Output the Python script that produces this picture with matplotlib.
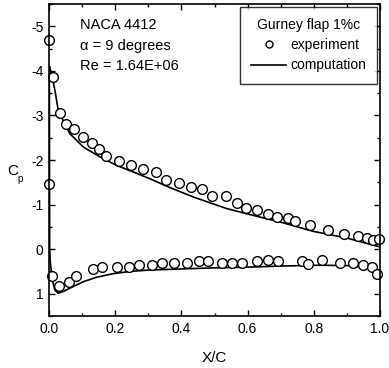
import matplotlib
matplotlib.use("Agg")
import matplotlib.pyplot as plt
from matplotlib.lines import Line2D

plt.rcParams['font.family'] = ['Liberation Sans', 'DejaVu Sans']

# experiment, upper surface
exp_up_x = [0.001, 0.013, 0.033, 0.050, 0.076, 0.104, 0.129, 0.152, 0.172, 0.212, 0.247,
            0.283, 0.323, 0.353, 0.393, 0.428, 0.461, 0.493, 0.534, 0.569, 0.594, 0.629,
            0.663, 0.690, 0.723, 0.743, 0.789, 0.844, 0.892, 0.933, 0.960, 0.980, 0.998]
exp_up_cp = [-4.69, -3.87, -3.05, -2.81, -2.70, -2.51, -2.38, -2.25, -2.10, -1.97, -1.88,
             -1.79, -1.73, -1.55, -1.48, -1.39, -1.34, -1.19, -1.20, -1.04, -0.93, -0.88,
             -0.78, -0.73, -0.69, -0.63, -0.54, -0.43, -0.35, -0.29, -0.24, -0.20, -0.22]
# experiment, lower surface
exp_lo_x = [0.001, 0.008, 0.031, 0.060, 0.082, 0.132, 0.161, 0.206, 0.243, 0.273, 0.312,
            0.342, 0.378, 0.416, 0.453, 0.481, 0.522, 0.552, 0.582, 0.627, 0.663, 0.693,
            0.763, 0.783, 0.824, 0.879, 0.918, 0.950, 0.975, 0.992]
exp_lo_cp = [-1.47, 0.60, 0.82, 0.73, 0.60, 0.45, 0.41, 0.40, 0.39, 0.36, 0.36,
             0.32, 0.31, 0.30, 0.26, 0.27, 0.32, 0.30, 0.30, 0.26, 0.24, 0.26,
             0.26, 0.34, 0.25, 0.31, 0.31, 0.36, 0.41, 0.56]

# computation, upper surface
cmp_up_x = [0.002, 0.010, 0.018, 0.028, 0.048, 0.063, 0.104, 0.154, 0.204, 0.255, 0.305,
            0.356, 0.436, 0.537, 0.637, 0.698, 0.798, 0.899, 1.0]
cmp_up_cp = [-4.10, -3.85, -3.56, -3.11, -2.81, -2.59, -2.29, -2.07, -1.88, -1.73, -1.58,
             -1.41, -1.17, -0.91, -0.72, -0.61, -0.40, -0.25, -0.05]
# computation, lower surface
cmp_lo_x = [0.001, 0.002, 0.004, 0.010, 0.018, 0.028, 0.043, 0.073, 0.104, 0.144, 0.194,
            0.245, 0.300, 0.416, 0.500, 0.617, 0.700, 0.819, 0.900, 0.950, 0.975, 0.990, 1.0]
cmp_lo_cp = [-4.10, 0.00, 0.30, 0.70, 0.92, 0.99, 0.95, 0.84, 0.73, 0.63, 0.55,
             0.50, 0.47, 0.44, 0.42, 0.40, 0.38, 0.36, 0.37, 0.40, 0.46, 0.54, 0.62]

x_ticks = [0.0, 0.2, 0.4, 0.6, 0.8, 1.0]
x_ticklabels = ["0.0", "0.2", "0.4", "0.6", "0.8", "1.0"]
y_ticks = [-5, -4, -3, -2, -1, 0, 1]
y_ticklabels = ["-5", "-4", "-3", "-2", "-1", "0", "1"]

fig = plt.figure(figsize=(3.89, 3.68), dpi=100)
ax = fig.add_axes([49/389, 1-316/368, (380-49)/389, (316-4)/368])

line_x = cmp_up_x[::-1] + cmp_lo_x
line_cp = cmp_up_cp[::-1] + cmp_lo_cp
ax.plot(line_x, line_cp, color='black', lw=1.2)
ax.plot(exp_up_x + exp_lo_x, exp_up_cp + exp_lo_cp, 'o', mfc='white', mec='black',
        ms=7, mew=1.0, ls='none', clip_on=False)

ax.set_xlim(0, 1)
ax.set_ylim(1.5, -5.5)
ax.set_xticks(x_ticks)
ax.set_xticklabels(x_ticklabels)
ax.set_yticks(y_ticks)
ax.set_yticklabels(y_ticklabels)
ax.set_xticks([0.1, 0.3, 0.5, 0.7, 0.9], minor=True)
ax.set_yticks([-5.5, -4.5, -3.5, -2.5, -1.5, -0.5, 0.5, 1.5], minor=True)
ax.tick_params(which='both', direction='in', top=True, right=True, labelsize=10, width=1.0)
ax.tick_params(which='major', length=4, pad=4)
ax.tick_params(which='minor', length=2.5)
for s in ax.spines.values():
    s.set_linewidth(1.2)

ax.set_xlabel("X/C", fontsize=11, labelpad=11)
ax.text(-0.11, 0.465, "C", transform=ax.transAxes, fontsize=11, ha='center', va='center')
ax.text(-0.088, 0.44, "p", transform=ax.transAxes, fontsize=7, ha='center', va='center')

ax.text(0.095, 0.955, "NACA 4412\n\u03b1 = 9 degrees\nRe = 1.64E+06", transform=ax.transAxes,
        fontsize=10.5, ha='left', va='top', linespacing=1.6)

handles = [Line2D([], [], marker='o', ls='none', mfc='white', mec='black', ms=5, mew=1.0),
           Line2D([], [], color='black', lw=1.2)]
leg = ax.legend(handles, ["experiment", "computation"], title="Gurney flap 1%c",
                loc='upper right', fontsize=10, title_fontsize=10, frameon=True,
                fancybox=False, edgecolor='black', borderaxespad=0.2, handlelength=2.5,
                handletextpad=0.3, labelspacing=0.45, borderpad=0.8)
leg.get_frame().set_linewidth(1.0)

fig.savefig("out.png", dpi=100)
